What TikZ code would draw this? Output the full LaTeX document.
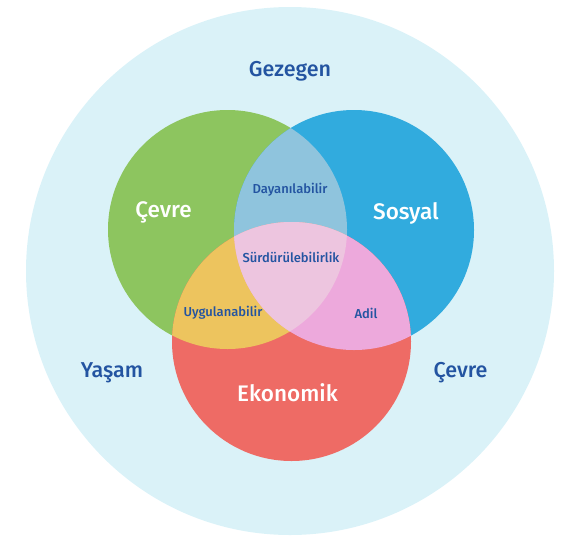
\documentclass[tikz,border=0pt]{standalone}
\usepackage{fontspec}
\setmainfont{Fira Sans}[UprightFont=* Medium]
\definecolor{bgc}{HTML}{DAF2F8}
\definecolor{grn}{HTML}{8DC55F}
\definecolor{blu}{HTML}{31ABDE}
\definecolor{rdc}{HTML}{EE6B65}
\definecolor{gb}{HTML}{8FC4DD}
\definecolor{gr}{HTML}{EDC45E}
\definecolor{br}{HTML}{EDA9DC}
\definecolor{ctr}{HTML}{EDC5DF}
\definecolor{lbl}{HTML}{2354A1}
\begin{document}
\begin{tikzpicture}[x=1pt,y=-1pt,
  big/.style={text=white,font=\fontsize{22.5}{26}\selectfont},
  outer/.style={text=lbl,font=\fontsize{21.5}{24}\selectfont},
  small/.style={text=lbl,font=\fontsize{13}{16}\selectfont}]
\useasboundingbox (0,0) rectangle (570,536);
\def\G{(227.5,229.5) circle[radius=119.5]}
\def\B{(354,230) circle[radius=120]}
\def\R{(291.5,341.5) circle[radius=119.5]}
\fill[bgc] (290,271) circle[radius=264];
\fill[grn] \G;
\fill[blu] \B;
\fill[rdc] \R;
\begin{scope}\clip \G; \fill[gb] \B; \end{scope}
\begin{scope}\clip \G; \fill[gr] \R; \end{scope}
\begin{scope}\clip \B; \fill[br] \R; \end{scope}
\begin{scope}\clip \G; \clip \B; \fill[ctr] \R; \end{scope}
\node[outer] (gez) at (290,71) {Gezegen};
\node[outer] (yas) at (112,373) {Yaşam};
\node[outer] (cev2) at (460.5,373) {Çevre};
\node[big] (cev) at (163.5,212) {Çevre};
\node[big] (sos) at (406,213) {Sosyal};
\node[big] (eko) at (287.5,393) {Ekonomik};
\node[small] (day) at (290,190) {Dayanılabilir};
\node[small] (sur) at (291,257) {Sürdürülebilirlik};
\node[small] (uyg) at (223,313) {Uygulanabilir};
\node[small] (adil) at (366,313) {Adil};
\end{tikzpicture}
\end{document}
